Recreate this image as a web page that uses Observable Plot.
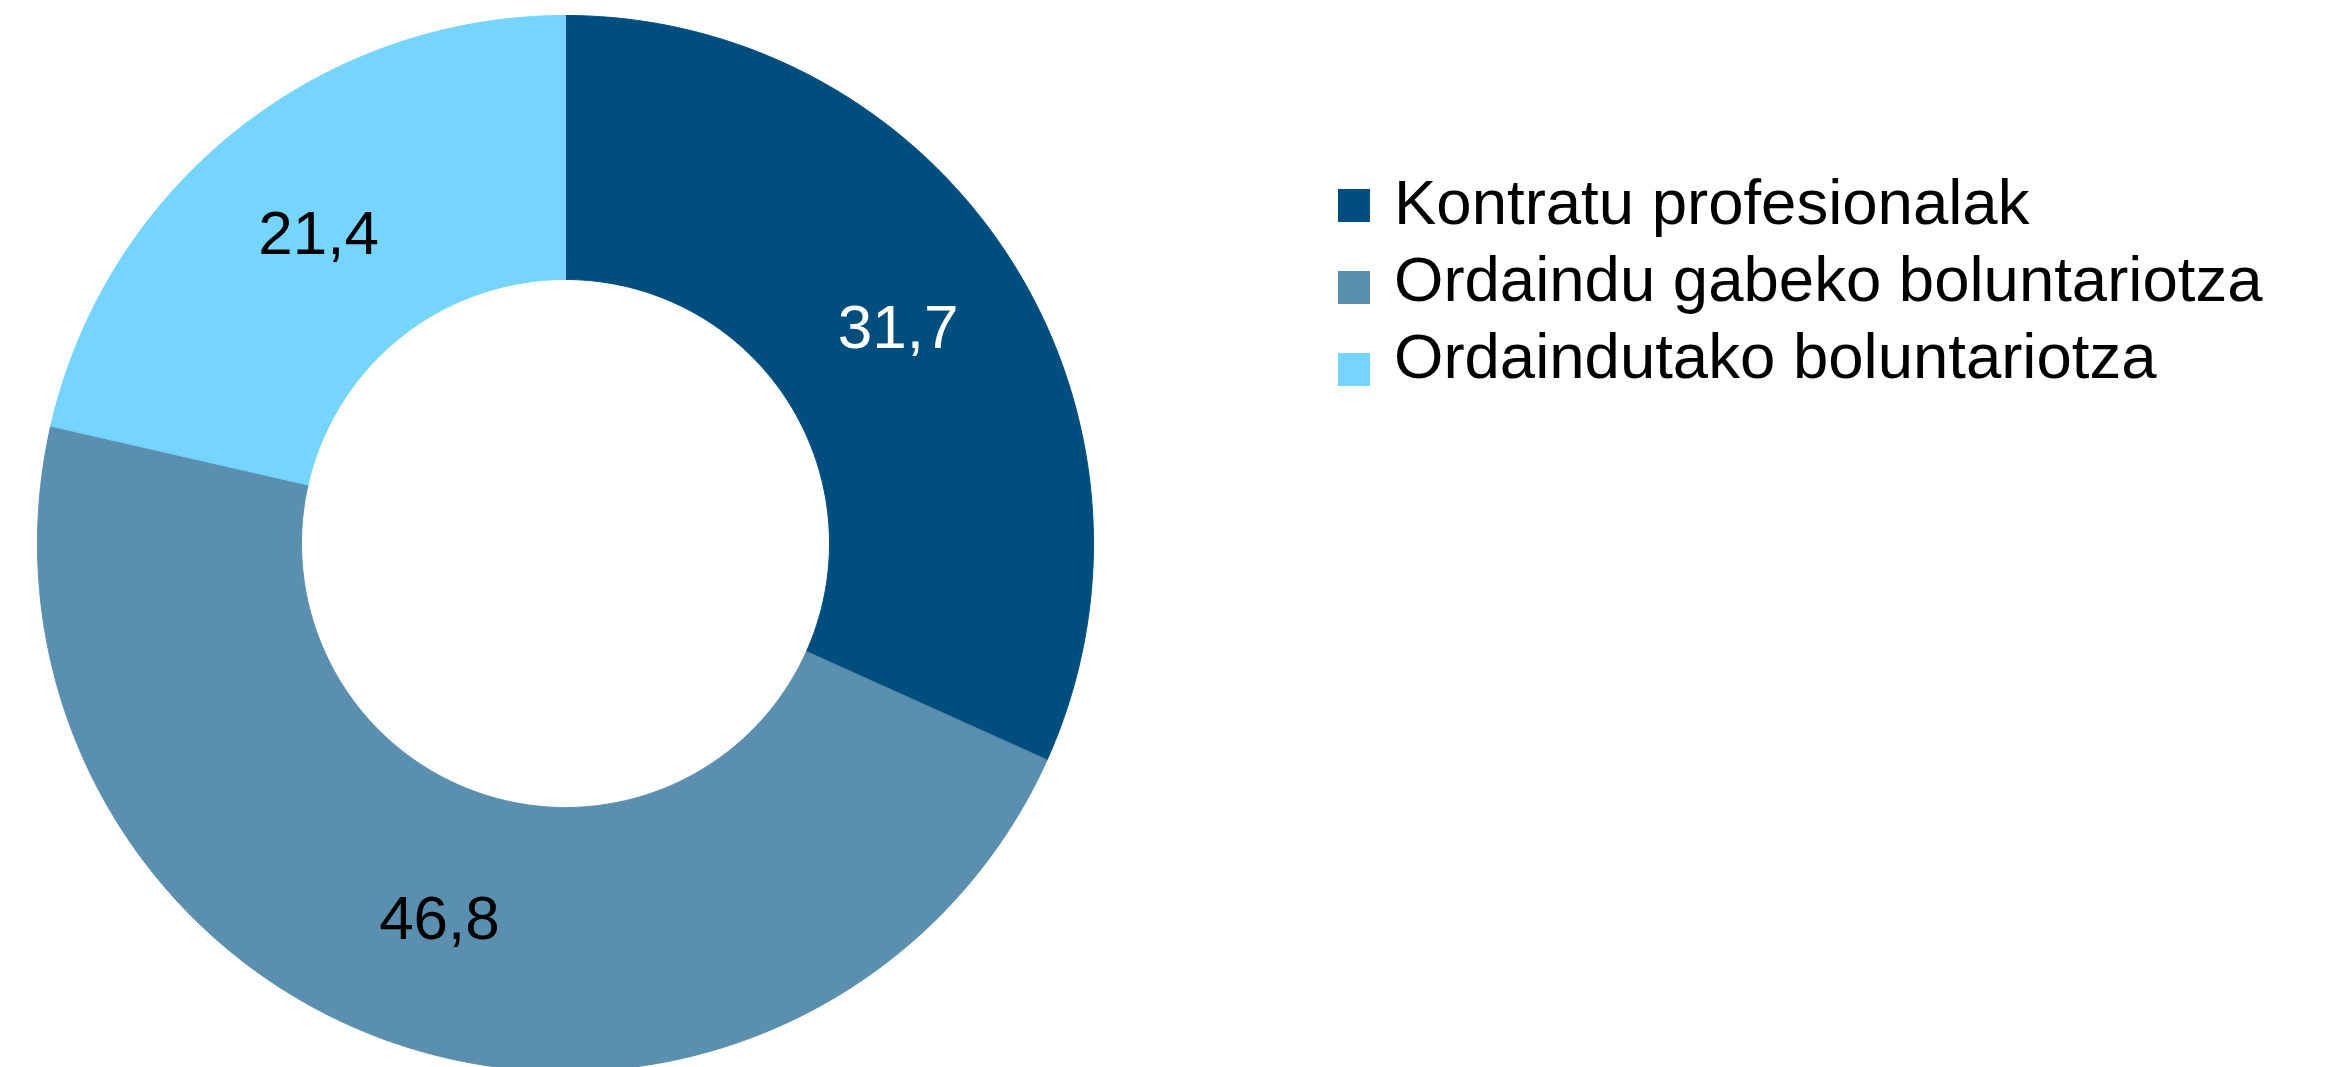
<!DOCTYPE html>
<html>
<head>
<meta charset="utf-8">
<script src="https://cdn.jsdelivr.net/npm/d3@7"></script>
<script src="https://cdn.jsdelivr.net/npm/@observablehq/plot@0.6"></script>
<style>
  html, body { margin: 0; padding: 0; background: #fff; }
  #wrap { position: relative; width: 2325px; height: 1067px; overflow: hidden; font-family: "Liberation Sans", Arial, sans-serif; }
  #chart { position: absolute; left: 0; top: 0; }
  .leg-sw { position: absolute; width: 32px; height: 33px; }
  .leg-tx { position: absolute; font-size: 63.5px; line-height: 63.5px; color: #000; white-space: nowrap; }
</style>
</head>
<body>
<div id="wrap"><div id="chart"></div></div>
<script>
// ---- data ----
const categories = ["Kontratu profesionalak", "Ordaindu gabeko boluntariotza", "Ordaindutako boluntariotza"];
const values = [31.7, 46.8, 21.4];
const colors = ["#004E7E", "#5A8FB0", "#76D5FE"];
const labelColors = ["#ffffff", "#000000", "#000000"];
const innerRatio = 0.5;

// ---- pie layout (from data) ----
const table = categories.map((c, i) => ({category: c, value: values[i], labelColor: labelColors[i]}));
const arcs = d3.pie().sort(null).value(d => d.value).startAngle(0).endAngle(2 * Math.PI)(table);

const ringPoints = [];
const labels = [];
for (const a of arcs) {
  const n = Math.max(8, Math.ceil((a.endAngle - a.startAngle) * 120));
  for (let k = 0; k <= n; k++) {
    const t = a.startAngle + (a.endAngle - a.startAngle) * k / n;
    ringPoints.push({category: a.data.category, x: Math.sin(t), y: Math.cos(t)});
  }
  for (let k = n; k >= 0; k--) {
    const t = a.startAngle + (a.endAngle - a.startAngle) * k / n;
    ringPoints.push({category: a.data.category, x: innerRatio * Math.sin(t), y: innerRatio * Math.cos(t)});
  }
  const mid = (a.startAngle + a.endAngle) / 2;
  const rm = (1 + innerRatio) / 2;
  labels.push({
    x: rm * Math.sin(mid), y: rm * Math.cos(mid),
    text: d3.format(".1f")(a.data.value).replace(".", ","),
    color: a.data.labelColor
  });
}

const plot = Plot.plot({
  width: 2325,
  height: 1067,
  margin: 0,
  style: {background: "transparent", fontFamily: "'Liberation Sans', Arial, sans-serif"},
  x: {domain: [-1, 1], range: [37, 1093], axis: null},
  y: {domain: [-1, 1], range: [1071, 15], axis: null},
  color: {domain: categories, range: colors},
  marks: [
    Plot.line(ringPoints, {x: "x", y: "y", z: "category", fill: "category", stroke: "category", strokeWidth: 1, curve: "linear-closed"}),
    Plot.text(labels, {x: "x", y: "y", text: "text", fill: d => d.color, fontSize: 62, textAnchor: "middle", lineAnchor: "middle"})
  ]
});
document.getElementById("chart").appendChild(plot);

// ---- legend ----
const wrap = document.getElementById("wrap");
const swTops = [189, 271, 353];
const baselines = [225, 302, 379];
categories.forEach((c, i) => {
  const sw = document.createElement("div");
  sw.className = "leg-sw";
  sw.style.left = "1338px";
  sw.style.top = swTops[i] + "px";
  sw.style.background = colors[i];
  wrap.appendChild(sw);
  const tx = document.createElement("div");
  tx.className = "leg-tx";
  tx.style.left = "1394px";
  tx.style.top = (baselines[i] - 53.8) + "px";
  tx.textContent = c;
  wrap.appendChild(tx);
});
</script>
</body>
</html>
